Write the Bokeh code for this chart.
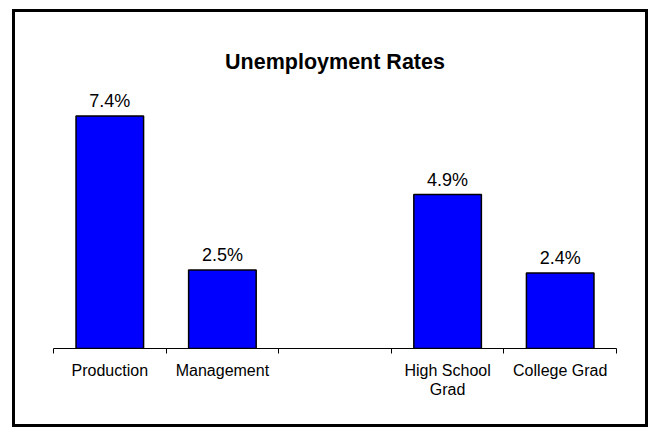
from bokeh.plotting import figure
from bokeh.models import (Range1d, LinearAxis, FixedTicker, LabelSet,
                          ColumnDataSource)
from bokeh.core.properties import value
from bokeh.embed import file_html
from bokeh.resources import INLINE

# ---- data ----
categories = ["Production", "Management", "", "High School\nGrad", "College Grad"]
bar_categories = ["Production", "Management", "High School\nGrad", "College Grad"]
rates = [7.4, 2.5, 4.9, 2.4]
rate_labels = ["7.4%", "2.5%", "4.9%", "2.4%"]
title_text = "Unemployment Rates"

FONT = "Liberation Sans"
n = len(categories)
bar_x = [categories.index(c) + 0.5 for c in bar_categories]
label_ticks = [i + 0.5 for i, c in enumerate(categories) if c]
label_map = {i + 0.5: c for i, c in enumerate(categories) if c}
edges = list(range(n + 1))

src = ColumnDataSource(dict(x=bar_x, rate=rates, label=rate_labels))

p = figure(width=636, height=418,
           x_range=Range1d(0, n), y_range=Range1d(0, 8.34),
           output_backend="svg", toolbar_location=None,
           x_axis_location=None, y_axis_location=None,
           min_border_left=38, min_border_right=35,
           min_border_top=74, min_border_bottom=82,
           styles={"border": "3px solid black", "margin-left": "12px",
                   "margin-top": "9px"})
p.grid.visible = False
p.outline_line_color = None
p.background_fill_color = "white"
p.border_fill_color = "white"

p.title.text = title_text
p.title.align = "center"
p.title.text_font = FONT
p.title.text_font_size = "21.5px"
p.title.text_font_style = "bold"
p.title.text_color = "black"
p.title.standoff = 25

p.vbar(x="x", top="rate", width=0.6, source=src,
       fill_color="#0000FF", line_color="black", line_width=1.5)

labels = LabelSet(x="x", y="rate", text="label", source=src,
                  text_align="center", text_baseline="alphabetic", y_offset=9,
                  text_font=value(FONT), text_font_size=value("18px"),
                  text_color="black")
p.add_layout(labels)

# single axis: minor ticks at category boundaries, labels at centres
x_axis = LinearAxis(ticker=FixedTicker(ticks=label_ticks, minor_ticks=edges),
                    major_label_overrides=label_map)
x_axis.axis_line_color = "black"
x_axis.axis_line_width = 1
x_axis.major_tick_line_color = None
x_axis.major_tick_out = 0
x_axis.major_tick_in = 0
x_axis.minor_tick_line_color = "black"
x_axis.minor_tick_out = 5
x_axis.minor_tick_in = 0
x_axis.major_label_standoff = 8
x_axis.major_label_text_font = FONT
x_axis.major_label_text_font_size = "16px"
x_axis.major_label_text_color = "black"
x_axis.major_label_text_line_height = 1.12
p.add_layout(x_axis, "below")

open("out.html", "w").write(file_html(p, INLINE))
